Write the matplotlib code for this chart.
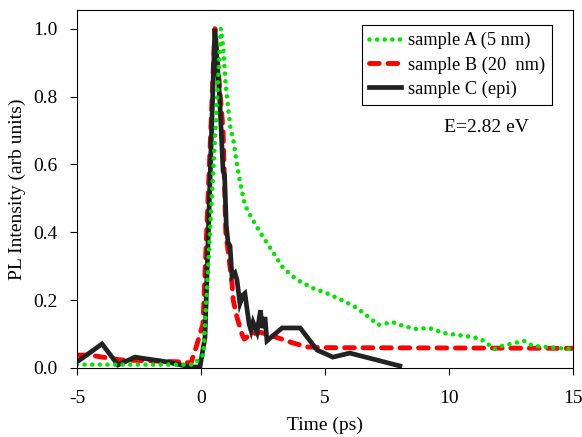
import matplotlib
matplotlib.use("Agg")
import matplotlib.pyplot as plt

# ============================
# Data
# ============================
t_a = [-5.0, -1.0, -0.3, 0.1, 0.8, 0.89, 1.0, 1.09, 1.2, 1.29, 1.45, 1.57, 1.77,
       2.06, 2.38, 2.78, 3.31, 3.87, 4.52, 5.08, 5.69, 6.29, 6.85, 7.14, 7.74,
       8.02, 8.63, 9.19, 9.80, 10.97, 11.29, 11.85, 12.14, 13.02, 13.39, 14.88, 15.0]
i_a = [0.01, 0.01, 0.01, 0.04, 1.0, 0.95, 0.83, 0.77, 0.70, 0.68, 0.60, 0.55, 0.48,
       0.44, 0.40, 0.355, 0.295, 0.26, 0.235, 0.22, 0.20, 0.177, 0.145, 0.127, 0.135,
       0.127, 0.115, 0.118, 0.103, 0.091, 0.085, 0.056, 0.065, 0.08, 0.065, 0.056, 0.055]

t_b = [-5.0, -4.48, -3.8, -3.27, -0.85, -0.4, -0.16, 0.08, 0.56, 0.89, 1.0, 1.25,
       1.3, 1.45, 1.65, 1.75, 2.0, 2.4, 3.06, 3.7, 4.27, 5.0, 15.0]
i_b = [0.038, 0.038, 0.03, 0.024, 0.018, 0.015, 0.07, 0.13, 1.0, 0.70, 0.40, 0.25,
       0.20, 0.15, 0.10, 0.085, 0.10, 0.105, 0.09, 0.074, 0.062, 0.06, 0.058]

t_c = [-5.0, -3.99, -3.35, -2.66, -1.37, -0.44, -0.04, 0.16, 0.56, 0.75, 0.89, 0.95,
       1.02, 1.09, 1.17, 1.25, 1.37, 1.45, 1.57, 1.69, 1.77, 1.94, 2.02, 2.1, 2.26,
       2.4, 2.46, 2.58, 2.66, 3.27, 4.0, 4.68, 5.32, 6.0, 8.02]
i_c = [0.018, 0.071, 0.009, 0.032, 0.018, 0.003, 0.003, 0.09, 1.0, 0.80, 0.58, 0.57,
       0.42, 0.37, 0.36, 0.27, 0.28, 0.26, 0.19, 0.215, 0.22, 0.13, 0.11, 0.135, 0.106,
       0.17, 0.118, 0.15, 0.08, 0.118, 0.118, 0.053, 0.032, 0.044, 0.006]

labels = ["sample A (5 nm)", "sample B (20  nm)", "sample C (epi)"]
x_ticks = [-5, 0, 5, 10, 15]
y_ticks = [0.0, 0.2, 0.4, 0.6, 0.8, 1.0]

# ============================
# Plot
# ============================
plt.rcParams["font.family"] = ["Liberation Serif", "DejaVu Serif"]
plt.rcParams["font.size"] = 14

fig = plt.figure(figsize=(5.82, 4.37), dpi=100)
ax = fig.add_axes([0.1323, 0.1579, 0.8522, 0.8192])

lb, = ax.plot(t_b, i_b, color="#ff0000", lw=3.5, linestyle=(0, (2.0, 1.8)),
              dash_capstyle="round", label=labels[1])
lc, = ax.plot(t_c, i_c, color="#222222", lw=3.4, solid_joinstyle="miter",
              label=labels[2])
la, = ax.plot(t_a, i_a, color="#00e600", lw=3.3, linestyle=(0, (0.01, 1.65)),
              dash_capstyle="round", label=labels[0])

ax.set_xlim(-5, 15)
ax.set_ylim(0, 1.055)
ax.set_xticks(x_ticks)
ax.set_xticklabels([str(v) for v in x_ticks])
ax.set_yticks(y_ticks)
ax.set_yticklabels([f"{v:.1f}" for v in y_ticks])
ax.tick_params(axis="x", direction="out", length=5, width=0.8, pad=11, labelsize=14)
ax.tick_params(axis="y", direction="out", length=5, width=0.8, pad=9, labelsize=14)

ax.set_xlabel("Time (ps)", fontsize=14, labelpad=7)
ax.set_ylabel("PL Intensity (arb units)", fontsize=14, labelpad=5)

ax.text(11.53, 0.708, "E=2.82 eV", ha="center", va="center", fontsize=14)

leg = ax.legend(handles=[la, lb, lc], loc="upper right",
                bbox_to_anchor=(0.958, 0.958), borderaxespad=0,
                fancybox=False, edgecolor="black", framealpha=1,
                handlelength=1.75, handletextpad=0.4, labelspacing=0.38,
                borderpad=0.38, fontsize=13.2)
leg.get_frame().set_linewidth(0.8)

fig.savefig("out.png", dpi=100)
